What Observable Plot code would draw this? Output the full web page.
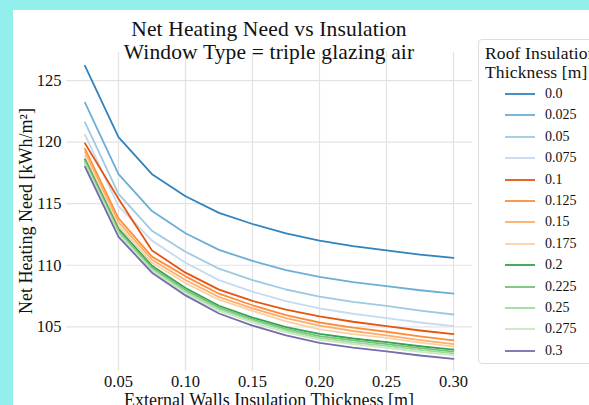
<!DOCTYPE html>
<html>
<head>
<meta charset="utf-8">
<script src="https://cdn.jsdelivr.net/npm/d3@7"></script>
<script src="https://cdn.jsdelivr.net/npm/@observablehq/plot@0.6"></script>
<style>
  html, body { margin: 0; padding: 0; }
  body { width: 589px; height: 405px; background: #93efeb; position: relative; overflow: hidden; font-family: "Liberation Serif", serif; }
  #panel { position: absolute; left: 13px; top: 10px; width: 576px; height: 395px; background: #fff; overflow: hidden; }
  #chart { position: absolute; left: 0; top: 0; }
  .title { position: absolute; left: 53px; width: 406px; text-align: center; font-size: 21.5px; letter-spacing: 0.15px; color: #111; white-space: nowrap; line-height: 1; }
  .xlabel { position: absolute; left: 53px; width: 406px; text-align: center; font-size: 18px; top: 380.5px; color: #111; white-space: nowrap; line-height: 1; }
  .ylabel { position: absolute; left: 12.5px; top: 201px; width: 0; height: 0; }
  .ylabel span { position: absolute; transform: translate(-50%, -50%) rotate(-90deg); white-space: nowrap; font-size: 18px; color: #111; line-height: 1; }
  #legend { position: absolute; left: 465px; top: 29px; width: 140px; height: 325px; border: 1px solid #dedede; border-radius: 4px; background: #fff; box-sizing: border-box; }
  #legend .lt { position: absolute; left: 6px; font-size: 17.5px; letter-spacing: 0.15px; color: #111; white-space: nowrap; line-height: 1; }
  #legend .item { position: absolute; left: 26px; height: 16px; display: flex; align-items: center; }
  #legend .item svg { width: 30px; height: 6px; }
  #legend .item span { margin-left: 10px; font-size: 14px; color: #111; line-height: 1; }
</style>
</head>
<body>
<div id="panel">
  <div id="chart"></div>
  <div class="title" style="top:8.5px">Net Heating Need vs Insulation</div>
  <div class="title" style="top:32px">Window Type = triple glazing air</div>
  <div class="xlabel">External Walls Insulation Thickness [m]</div>
  <div class="ylabel"><span>Net Heating Need [kWh/m²]</span></div>
  <div id="legend"></div>
</div>
<script>
// External walls insulation thickness [m]
const wallThickness = [0.025, 0.05, 0.075, 0.1, 0.125, 0.15, 0.175, 0.2, 0.225, 0.25, 0.275, 0.3];
// Roof insulation thickness labels
const roofLabels = ["0.0", "0.025", "0.05", "0.075", "0.1", "0.125", "0.15", "0.175", "0.2", "0.225", "0.25", "0.275", "0.3"];
// Net heating need [kWh/m2], one series per roof thickness
const roof_0_000 = [126.2, 120.4, 117.4, 115.6, 114.25, 113.35, 112.58, 112.0, 111.56, 111.2, 110.87, 110.6];
const roof_0_025 = [123.2, 117.4, 114.4, 112.6, 111.25, 110.35, 109.61, 109.05, 108.63, 108.3, 107.97, 107.7];
const roof_0_050 = [121.6, 115.8, 112.8, 111.1, 109.72, 108.8, 108.03, 107.45, 107.03, 106.7, 106.32, 106.0];
const roof_0_075 = [120.6, 114.8, 112.0, 110.2, 108.79, 107.85, 107.08, 106.5, 106.06, 105.7, 105.35, 105.05];
const roof_0_100 = [119.9, 115.4, 111.2, 109.4, 108.02, 107.1, 106.39, 105.85, 105.41, 105.05, 104.7, 104.4];
const roof_0_125 = [119.45, 113.8, 110.7, 109.1, 107.69, 106.75, 105.95, 105.35, 104.93, 104.6, 104.22, 103.9];
const roof_0_150 = [119.2, 113.5, 110.45, 108.8, 107.42, 106.5, 105.7, 105.1, 104.66, 104.3, 103.92, 103.6];
const roof_0_175 = [118.9, 113.2, 110.2, 108.55, 107.2, 106.3, 105.44, 104.8, 104.41, 104.1, 103.72, 103.4];
const roof_0_200 = [118.6, 112.95, 109.95, 108.15, 106.71, 105.75, 104.98, 104.43, 104.05, 103.75, 103.42, 103.15];
const roof_0_225 = [118.45, 112.8, 109.8, 108.0, 106.56, 105.6, 104.83, 104.25, 103.89, 103.6, 103.26, 102.98];
const roof_0_250 = [118.3, 112.65, 109.65, 107.85, 106.44, 105.5, 104.7, 104.1, 103.74, 103.45, 103.12, 102.84];
const roof_0_275 = [118.2, 112.5, 109.55, 107.7, 106.29, 105.35, 104.55, 103.95, 103.59, 103.3, 102.97, 102.7];
const roof_0_300 = [118.0, 112.3, 109.4, 107.55, 106.08, 105.1, 104.3, 103.7, 103.31, 103.0, 102.67, 102.4];
const xTicks = [0.05, 0.10, 0.15, 0.20, 0.25, 0.30];
const yTicks = [105, 110, 115, 120, 125];

const seriesList = [roof_0_000, roof_0_025, roof_0_050, roof_0_075, roof_0_100, roof_0_125, roof_0_150,
  roof_0_175, roof_0_200, roof_0_225, roof_0_250, roof_0_275, roof_0_300];
const palette = ["#3182bd", "#6baed6", "#9ecae1", "#c6dbef", "#e6550d", "#fd8d3c", "#fdae6b", "#fdd0a2",
  "#31a354", "#74c476", "#a1d99b", "#c7e9c0", "#756bb1"];

const rows = [];
seriesList.forEach((vals, i) => vals.forEach((v, j) => rows.push({roof: roofLabels[i], x: wallThickness[j], y: v})));

const font = "Liberation Serif, serif";
const chart = Plot.plot({
  width: 576, height: 395,
  marginLeft: 53, marginRight: 117, marginTop: 42, marginBottom: 34,
  style: {fontFamily: font, fontSize: "16.5px", color: "#111", background: "transparent", overflow: "visible"},
  x: {domain: [0.0112, 0.3142], ticks: xTicks, tickFormat: d3.format(".2f"), label: null},
  y: {domain: [101.37, 127.28], ticks: yTicks, label: null},
  color: {domain: roofLabels, range: palette},
  marks: [
    Plot.gridX(xTicks, {stroke: "#e3e3e3", strokeOpacity: 1, strokeWidth: 1.2}),
    Plot.gridY(yTicks, {stroke: "#e3e3e3", strokeOpacity: 1, strokeWidth: 1.2}),
    Plot.axisX({ticks: xTicks, tickFormat: d3.format(".2f"), tickSize: 0, tickPadding: 4, label: null, fontSize: 16.5}),
    Plot.axisY({ticks: yTicks, tickSize: 0, tickPadding: 5, label: null, fontSize: 16.5}),
    Plot.axisX({anchor: "top", ticks: [], label: null, line: true, stroke: "#dcdcdc"}),
    Plot.axisX({anchor: "bottom", ticks: [], label: null, line: true, stroke: "#a8a8a8"}),
    Plot.axisY({anchor: "left", ticks: [], label: null, line: true, stroke: "#a8a8a8"}),
    Plot.line(rows, {x: "x", y: "y", z: "roof", stroke: "roof", strokeWidth: 1.8})
  ]
});
document.getElementById("chart").appendChild(chart);

// legend
const legend = document.getElementById("legend");
["Roof Insulation", "Thickness [m]"].forEach((t, i) => {
  const d = document.createElement("div");
  d.className = "lt"; d.textContent = t; d.style.top = (4.5 + i * 19) + "px";
  legend.appendChild(d);
});
roofLabels.forEach((lab, i) => {
  const it = document.createElement("div");
  it.className = "item";
  it.style.top = (46 + i * 21.4) + "px";
  it.innerHTML = `<svg viewBox="0 0 30 6"><line x1="0" x2="30" y1="3" y2="3" stroke="${palette[i]}" stroke-width="1.8"/></svg><span>${lab}</span>`;
  legend.appendChild(it);
});
</script>
</body>
</html>
